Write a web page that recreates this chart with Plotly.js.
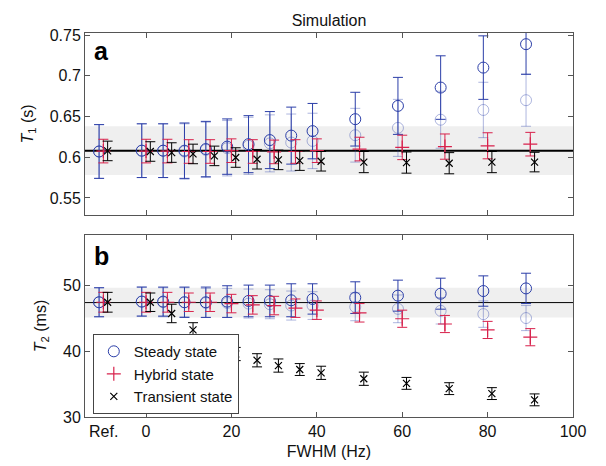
<!DOCTYPE html>
<html>
<head>
<meta charset="utf-8">
<script src="https://cdn.plot.ly/plotly-3.0.1.min.js"></script>
<style>html,body{margin:0;padding:0;background:#fff}</style>
</head>
<body>
<div id="chart" style="width:606px;height:466px"></div>
<script>
// FWHM positions (Hz); -10 stands for the "Ref." column
const fwhm = [-10, 0, 5, 10, 15, 20, 25, 30, 35, 40, 50, 60, 70, 80, 90];
const tickLabelsX = ['0', '20', '40', '60', '80', '100'];
const tickValsX = [0, 20, 40, 60, 80, 100];

// Panel a: T1 (s)
const t1Steady      = [0.607, 0.608, 0.608, 0.608, 0.610, 0.613, 0.616, 0.621, 0.6265, 0.632, 0.6467, 0.663, 0.6855, 0.710, 0.7388];
const t1SteadyErr   = [0.033, 0.033, 0.033, 0.034, 0.034, 0.034, 0.035, 0.035, 0.035, 0.034, 0.033, 0.035, 0.039, 0.039, 0.037];
const t1SteadyB     = [0.607, 0.608, 0.608, 0.607, 0.609, 0.611, 0.614, 0.617, 0.618, 0.620, 0.627, 0.636, 0.646, 0.658, 0.670];
const t1SteadyBErr  = [0.033, 0.033, 0.033, 0.034, 0.034, 0.034, 0.035, 0.035, 0.035, 0.034, 0.033, 0.035, 0.035, 0.034, 0.032];
const t1Hybrid      = [0.6075, 0.6075, 0.6075, 0.607, 0.607, 0.608, 0.607, 0.6065, 0.607, 0.608, 0.610, 0.612, 0.613, 0.614, 0.616];
const t1HybridErr   = [0.0145, 0.0145, 0.0145, 0.0145, 0.0145, 0.0145, 0.0145, 0.0145, 0.0145, 0.0145, 0.0145, 0.015, 0.0155, 0.016, 0.0145];
const t1Transient   = [0.6077, 0.607, 0.6057, 0.604, 0.6016, 0.5996, 0.5975, 0.5967, 0.5958, 0.595, 0.594, 0.5934, 0.5926, 0.594, 0.594];
const t1TransientErr= [0.012, 0.012, 0.012, 0.012, 0.012, 0.012, 0.012, 0.012, 0.012, 0.012, 0.013, 0.013, 0.013, 0.013, 0.012];
const t1Ref = 0.608, t1Band = 0.03;

// Panel b: T2 (ms)
const t2Steady      = [47.4, 47.5, 47.5, 47.4, 47.4, 47.5, 47.6, 47.6, 47.7, 47.9, 48.1, 48.4, 48.7, 49.1, 49.5];
const t2SteadyErr   = [2.2, 2.2, 2.2, 2.3, 2.3, 2.4, 2.4, 2.4, 2.5, 2.3, 2.4, 2.35, 2.35, 2.3, 2.3];
const t2SteadyB     = [47.4, 47.5, 47.4, 47.4, 47.3, 47.3, 47.2, 47.1, 46.9, 46.9, 46.7, 46.4, 46.1, 45.6, 45.0];
const t2SteadyBErr  = [2.2, 2.2, 2.2, 2.2, 2.2, 2.2, 2.2, 2.2, 2.2, 2.1, 2.1, 2.1, 2.0, 2.0, 1.9];
const t2Hybrid      = [47.4, 47.4, 47.4, 47.4, 47.4, 47.2, 47.0, 46.9, 46.5, 46.2, 45.8, 44.9, 44.1, 43.2, 42.1];
const t2HybridErr   = [1.5, 1.5, 1.5, 1.4, 1.4, 1.4, 1.4, 1.4, 1.4, 1.4, 1.4, 1.3, 1.3, 1.3, 1.3];
const t2Transient   = [47.4, 47.4, 45.7, 43.2, 41.0, 39.55, 38.6, 37.8, 37.2, 36.7, 35.8, 35.1, 34.3, 33.55, 32.6];
const t2TransientErr= [1.5, 1.4, 1.4, 1.1, 1.1, 1.0, 1.0, 1.0, 0.9, 1.0, 1.0, 0.9, 0.9, 0.9, 0.9];
const t2Ref = 47.35, t2Band = 2.25;

const names = ['Steady state', 'Hybrid state', 'Transient state'];

// style
const BLUE = '#2b3ea8', BLUE_F = 'rgba(43,62,168,0.38)', RED = '#d8224c', BLACK = '#000000';
const offS = -1, offH = 0, offT = 1;
const shift = (arr, d) => arr.map(v => v + d);
const FONT = 'Arial, "Liberation Sans", Helvetica, sans-serif';

function mk(x, y, err, color, symbol, size, lw, xa, ya, name, showlegend) {
  return {
    type: 'scatter', mode: 'markers', x: x, y: y, xaxis: xa, yaxis: ya,
    name: name, showlegend: showlegend,
    marker: {symbol: symbol, size: size, color: color, line: {color: color, width: lw}},
    error_y: {type: 'data', array: err, visible: true, color: color, thickness: 1, width: 5}
  };
}

const traces = [
  // panel a
  mk(shift(fwhm, offS), t1SteadyB, t1SteadyBErr, BLUE_F, 'circle-open', 11, 1, 'x2', 'y2', 'Steady (alt)', false),
  mk(shift(fwhm, offS), t1Steady, t1SteadyErr, BLUE, 'circle-open', 11, 1, 'x2', 'y2', names[0], false),
  mk(shift(fwhm, offH), t1Hybrid, t1HybridErr, RED, 'cross-thin-open', 10, 1.2, 'x2', 'y2', names[1], false),
  mk(shift(fwhm, offT), t1Transient, t1TransientErr, BLACK, 'x-thin-open', 7, 1.2, 'x2', 'y2', names[2], false),
  // panel b
  mk(shift(fwhm, offS), t2SteadyB, t2SteadyBErr, BLUE_F, 'circle-open', 11, 1, 'x', 'y', 'Steady (alt)', false),
  mk(shift(fwhm, offS), t2Steady, t2SteadyErr, BLUE, 'circle-open', 11, 1, 'x', 'y', names[0], true),
  mk(shift(fwhm, offH), t2Hybrid, t2HybridErr, RED, 'cross-thin-open', 10, 1.2, 'x', 'y', names[1], true),
  mk(shift(fwhm, offT), t2Transient, t2TransientErr, BLACK, 'x-thin-open', 7, 1.2, 'x', 'y', names[2], true)
];

const axisCommon = {
  showgrid: false, zeroline: false, showline: true, linecolor: '#555', linewidth: 1,
  mirror: 'ticks', ticks: 'inside', ticklen: 5, tickcolor: '#555',
  tickfont: {family: FONT, size: 16, color: '#111'}
};

const layout = {
  width: 606, height: 466,
  margin: {l: 85, r: 33, t: 33, b: 49},
  paper_bgcolor: '#fff', plot_bgcolor: '#fff',
  font: {family: FONT, color: '#111'},
  title: {text: 'Simulation', font: {family: FONT, size: 16, color: '#111'},
          xref: 'paper', x: 0.5, xanchor: 'center', yref: 'container', y: 1 - 20 / 466, yanchor: 'middle'},
  xaxis: Object.assign({}, axisCommon, {
    domain: [0, 1], anchor: 'y', range: [-14.3, 100],
    tickvals: tickValsX, ticktext: tickLabelsX,
    title: {text: 'FWHM (Hz)', font: {family: FONT, size: 16, color: '#111'}, standoff: 6}
  }),
  xaxis2: Object.assign({}, axisCommon, {
    domain: [0, 1], anchor: 'y2', range: [-14.3, 100],
    tickvals: tickValsX, showticklabels: false
  }),
  yaxis: Object.assign({}, axisCommon, {
    domain: [0, 0.474], anchor: 'x', range: [30, 57.6],
    tickvals: [30, 40, 50], ticktext: ['30', '40', '50'],
    title: {text: '<i>T</i><sub>2</sub> (ms)', font: {family: FONT, size: 16, color: '#111'}, standoff: 12}
  }),
  yaxis2: Object.assign({}, axisCommon, {
    domain: [0.526, 1], anchor: 'x2', range: [0.529, 0.7525],
    tickvals: [0.55, 0.6, 0.65, 0.7, 0.75], ticktext: ['0.55', '0.6', '0.65', '0.7', '0.75'],
    title: {text: '<i>T</i><sub>1</sub> (s)', font: {family: FONT, size: 16, color: '#111'}, standoff: 12}
  }),
  shapes: [
    {type: 'rect', xref: 'x2 domain', yref: 'y2', x0: 0, x1: 1, y0: t1Ref - t1Band, y1: t1Ref + t1Band,
     fillcolor: '#efefef', line: {width: 0}, layer: 'below'},
    {type: 'line', xref: 'x2 domain', yref: 'y2', x0: 0, x1: 1, y0: t1Ref, y1: t1Ref,
     line: {color: '#000', width: 2}, layer: 'below'},
    {type: 'rect', xref: 'x domain', yref: 'y', x0: 0, x1: 1, y0: t2Ref - t2Band, y1: t2Ref + t2Band,
     fillcolor: '#efefef', line: {width: 0}, layer: 'below'},
    {type: 'line', xref: 'x domain', yref: 'y', x0: 0, x1: 1, y0: t2Ref, y1: t2Ref,
     line: {color: '#000', width: 1}, layer: 'below'}
  ],
  annotations: [
    {text: '<b>a</b>', xref: 'x2 domain', yref: 'y2 domain', x: 0.014, y: 0.9, xanchor: 'left', yanchor: 'middle',
     showarrow: false, font: {family: FONT, size: 25, color: '#000'}},
    {text: '<b>b</b>', xref: 'x domain', yref: 'y domain', x: 0.014, y: 0.885, xanchor: 'left', yanchor: 'middle',
     showarrow: false, font: {family: FONT, size: 25, color: '#000'}},
    {text: 'Ref.', xref: 'x', yref: 'y domain', x: -10, y: 0, xanchor: 'center', yanchor: 'top', yshift: -4,
     showarrow: false, font: {family: FONT, size: 16, color: '#111'}}
  ],
  legend: {
    x: 0.016, y: 0.216, xref: 'paper', yref: 'paper', xanchor: 'left', yanchor: 'top',
    bgcolor: '#fff', bordercolor: '#444', borderwidth: 1,
    font: {family: FONT, size: 15, color: '#111'}, itemwidth: 30, tracegroupgap: 0
  }
};

Plotly.newPlot('chart', traces, layout, {displayModeBar: false, responsive: false});
</script>
</body>
</html>
